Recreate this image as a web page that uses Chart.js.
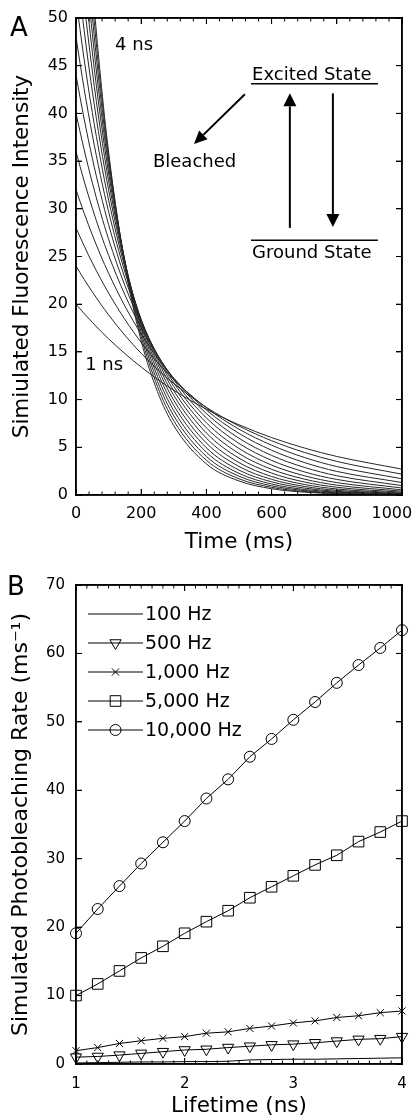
<!DOCTYPE html>
<html>
<head>
<meta charset="utf-8">
<script src="https://cdn.jsdelivr.net/npm/chart.js@4.4.1/dist/chart.umd.min.js"></script>
<style>
  body { margin: 0; background: #fff; }
  canvas { display: block; }
</style>
</head>
<body>
<canvas id="chartA" width="412" height="560"></canvas>
<canvas id="chartB" width="412" height="560"></canvas>
<script>
// ---- panel A: simulated decay curves, one per fluorescence lifetime ----
const timeMs = [0, 25, 50, 75, 100, 150, 200, 250, 300, 400, 500, 600, 700, 800, 1000];
const lifetimeA = [1.0, 1.2, 1.4, 1.6, 1.8, 2.0, 2.2, 2.4, 2.6, 2.8, 3.0, 3.2, 3.4, 3.6, 3.8, 4.0];
const ns1_0 = [20, 19.02, 18.10, 17.21, 16.37, 14.82, 13.41, 12.13, 10.98, 8.99, 7.36, 6.02, 4.93, 4.04, 2.71];
const ns1_2 = [24, 22.60, 21.29, 20.05, 18.88, 16.74, 14.85, 13.17, 11.68, 9.19, 7.23, 5.69, 4.47, 3.52, 2.18];
const ns1_4 = [28, 26.11, 24.34, 22.70, 21.16, 18.40, 15.99, 13.90, 12.09, 9.14, 6.90, 5.22, 3.94, 2.98, 1.70];
const ns1_6 = [32, 29.54, 27.27, 25.17, 23.24, 19.80, 16.87, 14.38, 12.25, 8.90, 6.46, 4.69, 3.41, 2.47, 1.31];
const ns1_8 = [36, 32.90, 30.07, 27.48, 25.12, 20.98, 17.52, 14.64, 12.23, 8.53, 5.95, 4.15, 2.90, 2.02, 0.98];
const ns2_0 = [40, 36.19, 32.75, 29.63, 26.81, 21.95, 17.97, 14.72, 12.05, 8.08, 5.41, 3.63, 2.43, 1.63, 0.73];
const ns2_2 = [44, 39.42, 35.31, 31.63, 28.34, 22.74, 18.25, 14.65, 11.75, 7.57, 4.88, 3.14, 2.02, 1.30, 0.54];
const ns2_4 = [48, 42.57, 37.76, 33.49, 29.70, 23.37, 18.38, 14.46, 11.37, 7.04, 4.35, 2.69, 1.67, 1.03, 0.40];
const ns2_6 = [52, 45.66, 40.09, 35.21, 30.92, 23.84, 18.38, 14.17, 10.93, 6.50, 3.86, 2.30, 1.37, 0.81, 0.29];
const ns2_8 = [56, 48.68, 42.32, 36.79, 31.99, 24.18, 18.27, 13.81, 10.44, 5.96, 3.40, 1.94, 1.11, 0.63, 0.21];
const ns3_0 = [60, 51.64, 44.45, 38.26, 32.93, 24.39, 18.07, 13.39, 9.92, 5.44, 2.99, 1.64, 0.90, 0.49, 0.15];
const ns3_2 = [64, 54.54, 46.47, 39.60, 33.75, 24.51, 17.79, 12.92, 9.38, 4.95, 2.61, 1.38, 0.73, 0.38, 0.11];
const ns3_4 = [68, 57.37, 48.40, 40.83, 34.45, 24.52, 17.45, 12.42, 8.84, 4.48, 2.27, 1.15, 0.58, 0.30, 0.08];
const ns3_6 = [72, 60.14, 50.23, 41.96, 35.05, 24.45, 17.06, 11.90, 8.30, 4.04, 1.97, 0.96, 0.47, 0.23, 0.05];
const ns3_8 = [76, 62.85, 51.97, 42.98, 35.54, 24.31, 16.62, 11.37, 7.77, 3.64, 1.70, 0.80, 0.37, 0.17, 0.04];
const ns4_0 = [80, 65.50, 53.63, 43.90, 35.95, 24.10, 16.15, 10.83, 7.26, 3.26, 1.47, 0.66, 0.30, 0.13, 0.03];
const decayCurves = [ns1_0, ns1_2, ns1_4, ns1_6, ns1_8, ns2_0, ns2_2, ns2_4,
                     ns2_6, ns2_8, ns3_0, ns3_2, ns3_4, ns3_6, ns3_8, ns4_0];

// ---- panel B: photobleaching rate vs lifetime ----
const lifetimeNs = [1.0, 1.2, 1.4, 1.6, 1.8, 2.0, 2.2, 2.4, 2.6, 2.8, 3.0, 3.2, 3.4, 3.6, 3.8, 4.0];
const rate100 = [0.15, 0.2, 0.25, 0.3, 0.3, 0.35, 0.35, 0.4, 0.6, 0.65, 0.7, 0.7, 0.75, 0.8, 0.85, 0.9];
const rate500 = [1.0, 1.1, 1.3, 1.55, 1.8, 2.05, 2.15, 2.4, 2.6, 2.8, 2.9, 3.1, 3.35, 3.6, 3.7, 4.0];
const rate1000 = [1.95, 2.4, 3.0, 3.4, 3.75, 4.0, 4.5, 4.7, 5.2, 5.55, 6.0, 6.3, 6.8, 7.05, 7.5, 7.75];
const rate5000 = [10.0, 11.7, 13.6, 15.5, 17.2, 19.1, 20.8, 22.4, 24.3, 25.9, 27.5, 29.1, 30.5, 32.5, 33.9, 35.5];
const rate10000 = [19.1, 22.65, 26.0, 29.3, 32.4, 35.5, 38.8, 41.6, 44.9, 47.5, 50.3, 52.9, 55.7, 58.3, 60.8, 63.4];
const seriesLabels = ['100 Hz', '500 Hz', '1,000 Hz', '5,000 Hz', '10,000 Hz'];

Chart.defaults.font.family = '"DejaVu Sans", sans-serif';
Chart.defaults.color = '#000';

// inward major ticks + axis line straight from the library
const inward = {
    grid: { display: true, drawOnChartArea: false, drawTicks: true, tickLength: -6, color: '#000', lineWidth: 1 },
    border: { display: true, color: '#000', width: 1.5 }
};
// mirror axes on top / right, only for the box and ticks
function mirrorAxis(pos, min, max, step) {
    return Object.assign({
        type: 'linear', position: pos, min: min, max: max,
        ticks: { display: false, stepSize: step },
        afterFit: s => {
            if (pos === 'top') s.height = 0; else s.width = 0;
            s.paddingLeft = 0; s.paddingRight = 0; s.paddingTop = 0; s.paddingBottom = 0;
        }
    }, inward);
}

// minor ticks and box (matlab look)
function drawFrame(chart, xMajor, xMinor, yMajor) {
    const { ctx, chartArea: a } = chart;
    const x = chart.scales.x, y = chart.scales.y;
    ctx.save();
    ctx.strokeStyle = '#000';
    ctx.lineWidth = 1;
    const tick = (x1, y1, x2, y2) => { ctx.beginPath(); ctx.moveTo(x1, y1); ctx.lineTo(x2, y2); ctx.stroke(); };
    const nx = Math.round((x.max - x.min) / xMinor);
    const every = Math.round(xMajor / xMinor);
    for (let i = 0; i <= nx; i++) {
        const px = x.getPixelForValue(x.min + i * xMinor);
        const len = i % every === 0 ? 6 : 3.5;
        tick(px, a.bottom, px, a.bottom - len);
        tick(px, a.top, px, a.top + len);
    }
    const ny = Math.round((y.max - y.min) / yMajor);
    for (let i = 0; i <= ny; i++) {
        const py = y.getPixelForValue(y.min + i * yMajor);
        tick(a.left, py, a.left + 6, py);
        tick(a.right, py, a.right - 6, py);
    }
    ctx.lineWidth = 1.5;
    ctx.strokeRect(a.left, a.top, a.right - a.left, a.bottom - a.top);
    ctx.restore();
}

function drawArrow(ctx, x1, y1, x2, y2, head, half) {
    const ang = Math.atan2(y2 - y1, x2 - x1);
    const bx = x2 - head * Math.cos(ang), by = y2 - head * Math.sin(ang);
    ctx.beginPath(); ctx.moveTo(x1, y1); ctx.lineTo(bx, by); ctx.stroke();
    ctx.beginPath();
    ctx.moveTo(x2, y2);
    ctx.lineTo(bx + half * Math.sin(ang), by - half * Math.cos(ang));
    ctx.lineTo(bx - half * Math.sin(ang), by + half * Math.cos(ang));
    ctx.closePath();
    ctx.fill();
}

// box, labels, energy diagram and panel letter for A
const decorA = {
    id: 'decorA',
    afterDraw(chart) {
        drawFrame(chart, 200, 40, 5);
        const { ctx } = chart;
        const x = chart.scales.x, y = chart.scales.y;
        const px = v => x.getPixelForValue(v), py = v => y.getPixelForValue(v);
        ctx.save();
        ctx.fillStyle = '#000';
        ctx.strokeStyle = '#000';
        ctx.textAlign = 'left';
        ctx.textBaseline = 'alphabetic';
        ctx.font = '18px "DejaVu Sans"';
        ctx.fillText('4 ns', px(120), py(46.6));
        ctx.fillText('1 ns', px(28), py(13.1));
        ctx.fillText('Bleached', px(236), py(34.4));
        ctx.fillText('Excited State', px(540), py(43.5));
        ctx.fillText('Ground State', px(540), py(24.8));
        ctx.lineWidth = 1.5;
        ctx.beginPath();
        ctx.moveTo(px(537), py(43.1)); ctx.lineTo(px(926), py(43.1));
        ctx.moveTo(px(537), py(26.7)); ctx.lineTo(px(926), py(26.7));
        ctx.stroke();
        ctx.lineWidth = 2;
        drawArrow(ctx, px(518), py(42.0), px(362), py(36.8), 13, 6);
        drawArrow(ctx, px(656), py(28.0), px(656), py(42.1), 13, 6.5);
        drawArrow(ctx, px(788), py(42.1), px(788), py(28.1), 13, 6.5);
        ctx.font = '26px "DejaVu Sans"';
        ctx.fillText('A', 10, 36);
        ctx.restore();
    }
};

// box + legend for B: line with its marker in the middle, like matlab
const decorB = {
    id: 'decorB',
    afterDraw(chart) {
        drawFrame(chart, 1, 0.1, 10);
        const { ctx, chartArea: a } = chart;
        ctx.save();
        ctx.strokeStyle = '#000';
        ctx.fillStyle = '#000';
        ctx.font = '19px "DejaVu Sans"';
        ctx.textBaseline = 'middle';
        chart.data.datasets.forEach((ds, i) => {
            const yy = a.top + 29 + 29 * i;
            ctx.lineWidth = 1;
            ctx.beginPath(); ctx.moveTo(a.left + 12, yy); ctx.lineTo(a.left + 67, yy); ctx.stroke();
            if (ds.pointRadius > 0) {
                ctx.save();
                ctx.fillStyle = 'rgba(0,0,0,0)';
                Chart.helpers.drawPoint(ctx, {
                    pointStyle: ds.pointStyle, rotation: ds.pointRotation || 0,
                    radius: ds.pointRadius, borderWidth: 1
                }, a.left + 39.5, yy);
                ctx.restore();
            }
            ctx.fillText(ds.label, a.left + 69, yy + 1);
        });
        ctx.font = '26px "DejaVu Sans"';
        ctx.textBaseline = 'alphabetic';
        ctx.fillText('B', 7, 35);
        ctx.restore();
    }
};

new Chart(document.getElementById('chartA'), {
    type: 'line',
    data: {
        datasets: decayCurves.map((vals, i) => ({
            label: lifetimeA[i] + ' ns',
            data: timeMs.map((t, j) => ({ x: t, y: vals[j] })),
            borderColor: '#262626',
            borderWidth: 1,
            pointRadius: 0,
            cubicInterpolationMode: 'monotone',
            clip: 0
        }))
    },
    options: {
        responsive: false,
        animation: false,
        devicePixelRatio: 1,
        layout: { padding: { top: 18, right: 10, left: 0, bottom: 0 } },
        plugins: { legend: { display: false }, tooltip: { enabled: false } },
        scales: {
            x: Object.assign({
                type: 'linear', min: 0, max: 1000,
                ticks: {
                    stepSize: 200, padding: 15, maxRotation: 0, font: { size: 16 },
                    callback: v => v === 1000 ? '1000\u2007\u2007' : String(v)
                },
                title: { display: true, text: 'Time (ms)', font: { size: 21.5 }, padding: { top: 0, bottom: 5 } },
                afterFit: s => { s.height = 65; s.paddingLeft = 0; s.paddingRight = 0; }
            }, inward),
            y: Object.assign({
                min: 0, max: 50,
                ticks: { stepSize: 5, padding: 14, font: { size: 16 } },
                title: { display: true, text: 'Simiulated Fluorescence Intensity', font: { size: 21.5 }, padding: { top: 10, bottom: 0 } },
                afterFit: s => { s.width = 76; s.paddingTop = 0; s.paddingBottom = 0; }
            }, inward),
            x2: mirrorAxis('top', 0, 1000, 200),
            y2: mirrorAxis('right', 0, 50, 5)
        }
    },
    plugins: [decorA]
});

const ratesB = [rate100, rate500, rate1000, rate5000, rate10000];
const markerB = [
    { pointStyle: 'circle', pointRadius: 0 },
    { pointStyle: 'triangle', pointRotation: 180, pointRadius: 6.5 },
    { pointStyle: 'crossRot', pointRadius: 5 },
    { pointStyle: 'rect', pointRadius: 7.5 },
    { pointStyle: 'circle', pointRadius: 5.5 }
];

new Chart(document.getElementById('chartB'), {
    type: 'line',
    data: {
        datasets: ratesB.map((vals, i) => Object.assign({
            label: seriesLabels[i],
            data: lifetimeNs.map((t, j) => ({ x: t, y: vals[j] })),
            borderColor: '#000',
            borderWidth: 1,
            pointBorderColor: '#000',
            pointBackgroundColor: 'rgba(0,0,0,0)',
            pointBorderWidth: 1,
            tension: 0,
            clip: false
        }, markerB[i]))
    },
    options: {
        responsive: false,
        animation: false,
        devicePixelRatio: 1,
        layout: { padding: { top: 25, right: 10, left: 0, bottom: 0 } },
        plugins: { legend: { display: false }, tooltip: { enabled: false } },
        scales: {
            x: Object.assign({
                type: 'linear', min: 1, max: 4,
                ticks: { stepSize: 1, padding: 17, maxRotation: 0, font: { size: 15 } },
                title: { display: true, text: 'Lifetime (ns)', font: { size: 21.5 }, padding: { top: 0, bottom: 1 } },
                afterFit: s => { s.height = 56; s.paddingLeft = 0; s.paddingRight = 0; }
            }, inward),
            y: Object.assign({
                min: 0, max: 70,
                ticks: { stepSize: 10, padding: 17, font: { size: 15 } },
                title: { display: true, text: 'Simulated Photobleaching Rate (ms\u207B\u00B9)', font: { size: 22 }, padding: { top: 8, bottom: 0 } },
                afterFit: s => { s.width = 76; s.paddingTop = 0; s.paddingBottom = 0; }
            }, inward),
            x2: mirrorAxis('top', 1, 4, 1),
            y2: mirrorAxis('right', 0, 70, 10)
        }
    },
    plugins: [decorB]
});
</script>
</body>
</html>
